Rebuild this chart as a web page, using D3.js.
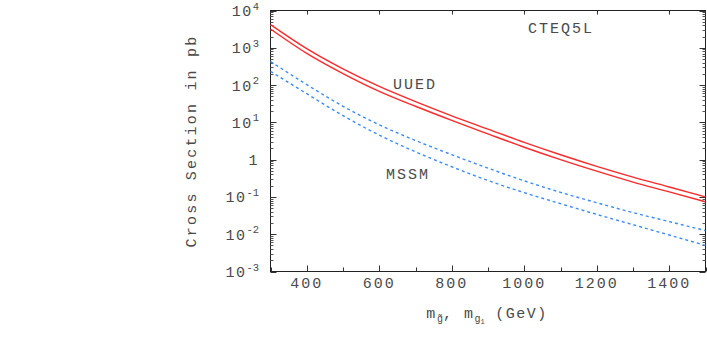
<!DOCTYPE html>
<html>
<head>
<meta charset="utf-8">
<script src="https://cdn.jsdelivr.net/npm/d3@7"></script>
<style>
  body { margin: 0; background: #fff; }
  text { font-family: "Liberation Mono", "DejaVu Sans Mono", monospace; fill: #4a4a4a; }
</style>
</head>
<body>
<div id="d3-container"></div>
<script>
// data
const mass = [300, 400, 500, 600, 700, 800, 900, 1000, 1100, 1200, 1300, 1400, 1500];
const uuedUpper = [4200, 950, 272, 92, 36, 15, 6.6, 2.9, 1.35, 0.66, 0.34, 0.185, 0.10];
const uuedLower = [3200, 710, 204, 68, 27, 11.3, 4.9, 2.15, 1.0, 0.49, 0.25, 0.137, 0.074];
const mssmUpper = [430, 103, 27, 8.6, 3.26, 1.36, 0.59, 0.27, 0.133, 0.070, 0.038, 0.0218, 0.0125];
const mssmLower = [234, 58.7, 15.1, 4.56, 1.62, 0.644, 0.275, 0.13, 0.066, 0.034, 0.018, 0.0095, 0.005];

const xTickLabels = [400, 600, 800, 1000, 1200, 1400];
const yExponents = [4, 3, 2, 1, 0, -1, -2, -3];

const width = 707, height = 337;
const plot = { left: 270.5, right: 705.5, top: 10.5, bottom: 271.5 };

const x = d3.scaleLinear().domain([300, 1500]).range([plot.left, plot.right]);
const y = d3.scaleLog().domain([1e-3, 1e4]).range([plot.bottom, plot.top]);

const svg = d3.select("#d3-container")
  .append("svg")
  .attr("width", width)
  .attr("height", height);

// frame
svg.append("rect")
  .attr("x", plot.left).attr("y", plot.top)
  .attr("width", plot.right - plot.left)
  .attr("height", plot.bottom - plot.top)
  .attr("fill", "none").attr("stroke", "#222").attr("stroke-width", 1);

// x ticks (inward)
const xTicks = d3.range(300, 1501, 100);
svg.append("g").selectAll("line")
  .data(xTicks)
  .join("line")
  .attr("x1", d => Math.round(x(d)) + 0.5).attr("x2", d => Math.round(x(d)) + 0.5)
  .attr("y1", plot.bottom)
  .attr("y2", d => plot.bottom - (d % 200 === 0 ? 6 : 4))
  .attr("stroke", "#333");
svg.append("g").selectAll("line")
  .data(xTicks.filter(d => d % 200 === 0))
  .join("line")
  .attr("x1", d => Math.round(x(d)) + 0.5).attr("x2", d => Math.round(x(d)) + 0.5)
  .attr("y1", plot.top)
  .attr("y2", plot.top + 4)
  .attr("stroke", "#333");

svg.append("g").selectAll("text")
  .data(xTickLabels)
  .join("text")
  .attr("x", d => x(d))
  .attr("y", 288)
  .attr("text-anchor", "middle")
  .attr("font-size", 15)
  .attr("letter-spacing", 2)
  .text(d => d);

// y ticks (log, inward both sides)
const yMinor = [];
for (let e = -3; e < 4; e++) for (let k = 2; k <= 9; k++) yMinor.push(k * Math.pow(10, e));
const yMajor = yExponents.map(e => Math.pow(10, e));

[[plot.left, 1], [plot.right, -1]].forEach(([x0, dir]) => {
  svg.append("g").selectAll("line.maj")
    .data(yMajor)
    .join("line")
    .attr("x1", x0).attr("x2", x0 + dir * 6)
    .attr("y1", d => Math.round(y(d)) + 0.5).attr("y2", d => Math.round(y(d)) + 0.5)
    .attr("stroke", "#333");
  svg.append("g").selectAll("line.min")
    .data(yMinor)
    .join("line")
    .attr("x1", x0).attr("x2", x0 + dir * 3)
    .attr("y1", d => Math.round(y(d)) + 0.5).attr("y2", d => Math.round(y(d)) + 0.5)
    .attr("stroke", "#555");
});

const yLab = svg.append("g").selectAll("text")
  .data(yExponents)
  .join("text")
  .attr("x", 259)
  .attr("y", d => y(Math.pow(10, d)) + 5.5)
  .attr("text-anchor", "end")
  .attr("font-size", 15)
  .attr("letter-spacing", 1.5);
yLab.each(function(e) {
  const t = d3.select(this);
  if (e === 0) { t.text("1"); return; }
  t.append("tspan").text("10");
  t.append("tspan").attr("dy", -6.5).attr("font-size", 10.5).attr("letter-spacing", 0).text(e);
});

// axis titles
svg.append("text")
  .attr("transform", "translate(196,141) rotate(-90)")
  .attr("text-anchor", "middle")
  .attr("font-size", 15)
  .attr("letter-spacing", 2.2)
  .text("Cross Section in pb");

const xt = svg.append("text")
  .attr("x", 487).attr("y", 318)
  .attr("text-anchor", "middle")
  .attr("font-size", 15)
  .attr("letter-spacing", 1.5);
xt.append("tspan").text("m");
xt.append("tspan").attr("dy", 4).attr("font-size", 10).attr("letter-spacing", 0).text("g\u0303");
xt.append("tspan").attr("dy", -4).text(", m");
xt.append("tspan").attr("dy", 4).attr("font-size", 10).attr("letter-spacing", 0).text("g");
xt.append("tspan").attr("dy", 2).attr("font-size", 7).attr("letter-spacing", 0).text("1");
xt.append("tspan").attr("dy", -6).text(" (GeV)");

// curves
const line = d3.line()
  .x((d, i) => x(mass[i]))
  .y(d => y(d))
  .curve(d3.curveMonotoneX);

const series = [
  { values: uuedUpper, color: "#ff2a2a", dash: null },
  { values: uuedLower, color: "#ff2a2a", dash: null },
  { values: mssmUpper, color: "#3a8cff", dash: "3,3" },
  { values: mssmLower, color: "#3a8cff", dash: "3,3" }
];

svg.append("g").selectAll("path")
  .data(series)
  .join("path")
  .attr("d", d => line(d.values))
  .attr("fill", "none")
  .attr("stroke", d => d.color)
  .attr("stroke-width", 1.4)
  .attr("stroke-dasharray", d => d.dash);

// labels
const labels = [
  { text: "CTEQ5L", x: 528, y: 33 },
  { text: "UUED", x: 393, y: 89 },
  { text: "MSSM", x: 386, y: 179 }
];
svg.append("g").selectAll("text")
  .data(labels)
  .join("text")
  .attr("x", d => d.x).attr("y", d => d.y)
  .attr("font-size", 15)
  .attr("letter-spacing", 2)
  .text(d => d.text);
</script>
</body>
</html>
